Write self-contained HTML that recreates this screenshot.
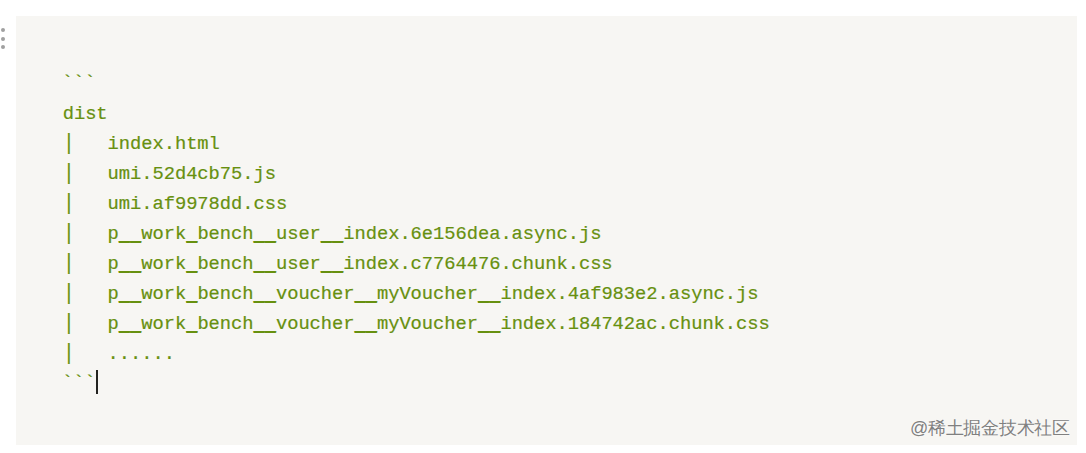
<!DOCTYPE html>
<html><head><meta charset="utf-8">
<style>
html,body{margin:0;padding:0;background:#fff;}
body{width:1086px;height:453px;position:relative;overflow:hidden;}
.box{position:absolute;left:16px;top:16px;width:1061px;height:429px;background:#f7f6f3;}
.dot{position:absolute;left:1px;width:4px;height:4px;border-radius:50%;background:#a0a0a0;}
pre{position:absolute;left:62.7px;top:69px;margin:0;font-family:"Liberation Mono",monospace;font-size:18.8px;letter-spacing:-0.05px;line-height:30px;color:#67900f;-webkit-text-stroke:0.2px #67900f;}
.b{display:inline-block;transform:translate(0.6px,-1.3px) scaleY(1.22);}
.u{position:relative;top:1px;text-shadow:0 0.9px 0 #67900f;}
.bt{position:relative;top:-1px;left:-1px;}
.cursor{position:absolute;left:96px;top:370px;width:2px;height:24px;background:#232320;}
.wm{position:absolute;right:16px;top:416px;font-family:"Liberation Sans",sans-serif;font-size:18px;letter-spacing:-0.25px;color:#808080;text-shadow:0 0 2px #fff;white-space:nowrap;}
</style></head><body>
<div class="box"></div>
<div class="dot" style="top:28px"></div>
<div class="dot" style="top:36.5px"></div>
<div class="dot" style="top:45px"></div>
<pre><span class="bt">```</span>
dist
<span class="b">|</span>   index.html
<span class="b">|</span>   umi.52d4cb75.js
<span class="b">|</span>   umi.af9978dd.css
<span class="b">|</span>   p<span class="u">__</span>work<span class="u">_</span>bench<span class="u">__</span>user<span class="u">__</span>index.6e156dea.async.js
<span class="b">|</span>   p<span class="u">__</span>work<span class="u">_</span>bench<span class="u">__</span>user<span class="u">__</span>index.c7764476.chunk.css
<span class="b">|</span>   p<span class="u">__</span>work<span class="u">_</span>bench<span class="u">__</span>voucher<span class="u">__</span>myVoucher<span class="u">__</span>index.4af983e2.async.js
<span class="b">|</span>   p<span class="u">__</span>work<span class="u">_</span>bench<span class="u">__</span>voucher<span class="u">__</span>myVoucher<span class="u">__</span>index.184742ac.chunk.css
<span class="b">|</span>   ......
<span class="bt">```</span></pre>
<div class="cursor"></div>
<div class="wm">@稀土掘金技术社区</div>
</body></html>
